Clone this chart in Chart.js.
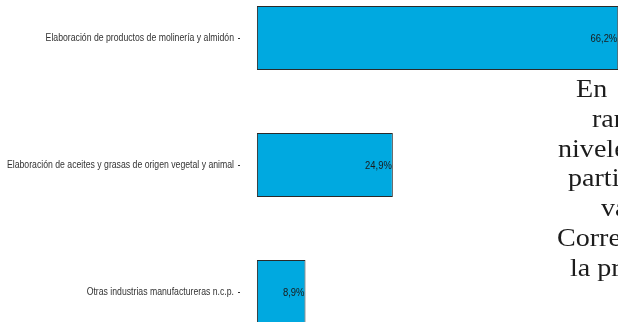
<!DOCTYPE html>
<html>
<head>
<meta charset="utf-8">
<script src="https://cdn.jsdelivr.net/npm/chart.js@4.4.1/dist/chart.umd.min.js"></script>
<style>
  html, body { margin: 0; padding: 0; background: #fff; overflow: hidden; }
  #wrap { position: relative; width: 618px; height: 322px; overflow: hidden; }
  /* chart is taller than the window: the picture is a crop of a bigger figure */
  #chart { position: absolute; left: 0; top: -30px; }
</style>
</head>
<body>
<div id="wrap">
  <canvas id="chart" width="640" height="390"></canvas>
</div>
<script>
const categories = [
  'Elaboración de productos de molinería y almidón',
  'Elaboración de aceites y grasas de origen vegetal y animal',
  'Otras industrias manufactureras n.c.p.'
];
const shares = [66.2, 24.9, 8.9];
const shareLabels = ['66,2%', '24,9%', '8,9%'];

// the paragraph text that runs in from the right of the crop
const proseLines = ['En', 'ran', 'nivele', 'parti', 'va', 'Corre', 'la pr'];
const proseLeft = [576, 592, 558, 568, 601, 557, 570];

const SANS = "'Liberation Sans', Arial, sans-serif";
const NARROW_X = 0.79; // no narrow face installed, squeeze the regular one
const SHIFT = 30;      // canvas top offset in the page

// tick labels drawn condensed (Chart.js has no font-stretch option)
const narrowTicks = {
  id: 'narrowTicks',
  afterDraw(chart) {
    const scale = chart.scales.y;
    const ctx = chart.ctx;
    ctx.save();
    ctx.font = `11px ${SANS}`;
    ctx.fillStyle = '#333';
    ctx.textAlign = 'right';
    ctx.textBaseline = 'middle';
    scale.ticks.forEach((t, i) => {
      const y = scale.getPixelForTick(i);
      ctx.save();
      ctx.translate(scale.right - 6, y);
      ctx.scale(NARROW_X, 1);
      ctx.fillText(categories[i], 0, 0);
      ctx.restore();
    });
    ctx.restore();
  }
};

const valueLabels = {
  id: 'valueLabels',
  afterDatasetsDraw(chart) {
    const ctx = chart.ctx;
    const meta = chart.getDatasetMeta(0);
    ctx.save();
    ctx.font = `11.5px ${SANS}`;
    ctx.fillStyle = '#1a1a1a';
    ctx.textAlign = 'right';
    ctx.textBaseline = 'middle';
    meta.data.forEach((bar, i) => {
      ctx.save();
      ctx.translate(bar.x - 1, bar.y + 1);
      ctx.scale(0.82, 1);
      ctx.fillText(shareLabels[i], 0, 0);
      ctx.restore();
    });
    ctx.restore();
  }
};

const prose = {
  id: 'prose',
  afterDraw(chart) {
    const ctx = chart.ctx;
    ctx.save();
    ctx.font = "26px 'Liberation Serif', serif";
    ctx.fillStyle = '#1c1c1c';
    ctx.textAlign = 'left';
    ctx.textBaseline = 'alphabetic';
    proseLines.forEach((line, i) => {
      ctx.save();
      ctx.translate(proseLeft[i], 97 + i * 29.8 + SHIFT);
      ctx.scale(1.08, 1);
      ctx.fillText(line, 0, 0);
      ctx.restore();
    });
    ctx.restore();
  }
};

new Chart(document.getElementById('chart'), {
  type: 'bar',
  data: {
    labels: categories,
    datasets: [{
      data: shares,
      backgroundColor: '#00a9e0',
      borderColor: '#2a2a2a',
      borderWidth: 1,
      borderSkipped: false,
      barPercentage: 0.504,
      categoryPercentage: 1,
    }],
  },
  options: {
    indexAxis: 'y',
    responsive: false,
    animation: false,
    devicePixelRatio: 1,
    layout: { padding: { top: 4.5, bottom: 4.5, left: 0, right: 1 } },
    plugins: { legend: { display: false }, tooltip: { enabled: false } },
    scales: {
      x: {
        min: -3.1,
        max: 70,
        display: false,
      },
      y: {
        afterFit(scale) {
          scale.width = 240;
          scale.paddingTop = 0;
          scale.paddingBottom = 0;
        },
        border: { display: false },
        grid: {
          offset: false,
          drawOnChartArea: false,
          drawTicks: true,
          tickLength: 2,
          color: '#333',
        },
        ticks: {
          padding: 4,
          color: 'rgba(0,0,0,0)',
          font: { family: SANS, size: 11 },
        },
      },
    },
  },
  plugins: [narrowTicks, valueLabels, prose],
});
</script>
</body>
</html>
